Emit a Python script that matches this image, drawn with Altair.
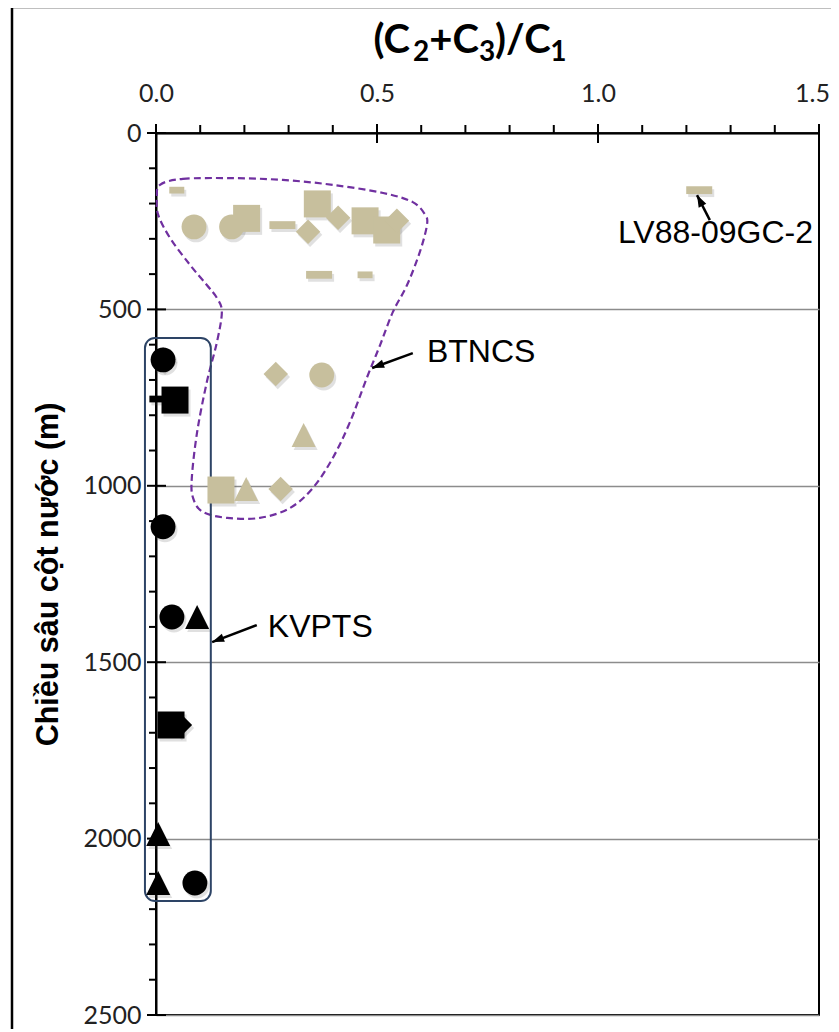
import math
import altair as alt
import pandas as pd

# ---------------- data ----------------
# BTNCS group (tan markers)
btn_x = [0.047, 0.086, 0.171, 0.205, 0.286, 0.344, 0.365, 0.412, 0.473, 0.522,
         0.545, 0.369, 0.473, 0.271, 0.375, 0.334, 0.147, 0.204, 0.282, 1.229]
btn_y = [162, 266, 266, 242, 261, 280, 201, 240, 249, 275,
         249, 402, 402, 683, 686, 856, 1012, 1009, 1009, 162]
btn_shape = ["dash_s", "circle", "circle", "square", "dash", "diamond", "square", "diamond",
             "square", "square", "diamond", "dash", "dash_s", "diamond", "circle", "triangle",
             "square", "triangle", "diamond", "dash"]

# KVPTS group (black markers)
kv_x = [0.016, 0.016, 0.002, 0.043, 0.016, 0.036, 0.093, 0.034, 0.054, 0.005, 0.005, 0.088]
kv_y = [643, 643, 754, 757, 1116, 1372, 1372, 1678, 1678, 1987, 2126, 2126]
kv_shape = ["circle", "diamond", "dash_s", "square", "circle", "circle", "triangle",
            "square", "diamond", "triangle", "triangle", "circle"]

# BTNCS enclosing dashed outline (data coordinates)
outline_x = [0.009, 0.061, 0.174, 0.287, 0.400, 0.514, 0.581, 0.609, 0.613, 0.597,
             0.568, 0.536, 0.507, 0.477, 0.439, 0.400, 0.355, 0.303, 0.235, 0.161,
             0.106, 0.084, 0.081, 0.093, 0.115, 0.138, 0.149, 0.138, 0.115, 0.077,
             0.032, 0.005, 0.002]
outline_y = [147, 130, 128, 133, 147, 170, 196, 232, 261, 337,
             431, 507, 601, 694, 819, 921, 1006, 1063, 1091, 1091,
             1074, 1035, 978, 848, 706, 592, 507, 468, 431, 374,
             298, 232, 184]

# KVPTS enclosing box
kv_box_x = [-0.025]
kv_box_x2 = [0.124]
kv_box_y = [581]
kv_box_y2 = [2177]

# annotation arrows (tail -> head) and labels
arrow_x = [0.581, 0.228, 1.253]
arrow_y = [624, 1395, 247]
arrow_x2 = [0.489, 0.127, 1.224]
arrow_y2 = [666, 1443, 176]
label_text = ["BTNCS", "KVPTS", "LV88-09GC-2"]
label_x = [0.613, 0.253, 1.045]
label_y = [621, 1400, 283]

# axis ticks
x_major = [0.0, 0.5, 1.0, 1.5]
x_minor = [0.1, 0.2, 0.3, 0.4, 0.6, 0.7, 0.8, 0.9, 1.1, 1.2, 1.3, 1.4]
y_major = [0, 500, 1000, 1500, 2000, 2500]
y_minor = [100, 200, 300, 400, 600, 700, 800, 900, 1100, 1200, 1300, 1400,
           1600, 1700, 1800, 1900, 2100, 2200, 2300, 2400]

# x-axis title "(C2+C3)/C1" split into normal / subscript pieces
title_parts = ["(C", "2", "+C", "3", ")/C", "1"]
title_is_sub = [False, True, False, True, False, True]

# ---------------- styling ----------------
W, H = 663, 882
TAN = "#c7bf9d"
shape_domain = ["circle", "square", "diamond", "triangle", "dash", "dash_s"]
shape_range = ["circle", "square", "diamond", "M0,-1L1,1L-1,1Z",
               "M-1,-0.3H1V0.3H-1Z", "M-1,-0.45H1V0.45H-1Z"]
shape_size = {"circle": 620, "square": 729, "diamond": 600, "triangle": 576,
              "dash": 676, "dash_s": 225}

xscale = alt.Scale(domain=[0, 1.5], nice=False, zero=False)
yscale = alt.Scale(domain=[0, 2500], reverse=True, nice=False, zero=False)

pts = pd.concat([
    pd.DataFrame({"x": btn_x, "y": btn_y, "shape": btn_shape, "group": "BTNCS"}),
    pd.DataFrame({"x": kv_x, "y": kv_y, "shape": kv_shape, "group": "KVPTS"}),
], ignore_index=True)
pts["i"] = range(len(pts))
pts["sz"] = pts["shape"].map(shape_size)

xaxis = alt.Axis(orient="top", values=x_major, format=".1f", ticks=False, tickSize=0,
                 labelFont="Lato", labelFontSize=25, labelColor="#222222", labelPadding=27,
                 labelOffset={"condition": {"test": "datum.value >= 1.49", "value": -7}, "value": 0},
                 labelFlush=False, domainColor="black", domainWidth=2, grid=False, title=None)
yaxis = alt.Axis(values=y_major, format="d", ticks=False, tickSize=0,
                 labelFont="Lato", labelFontSize=25, labelColor="#222222", labelPadding=15,
                 labelFlush=False, domainColor="black", domainWidth=2, grid=True,
                 gridColor="#8c8c8c", gridWidth=1.5,
                 title="Chiều sâu cột nước (m)", titleFont="Liberation Sans Narrow, Liberation Sans",
                 titleFontSize=30.5, titleFontWeight="bold", titleColor="black", titlePadding=19)

shape_enc = alt.Shape("shape:N", scale=alt.Scale(domain=shape_domain, range=shape_range), legend=None)
size_enc = alt.Size("sz:Q", scale=None, legend=None)

shadow = alt.Chart(pts).mark_point(filled=True, opacity=0.18, color="#555555",
                                    xOffset=2, yOffset=3, strokeWidth=0).encode(
    x=alt.X("x:Q", scale=xscale, axis=xaxis),
    y=alt.Y("y:Q", scale=yscale, axis=yaxis),
    shape=shape_enc, size=size_enc, order="i:Q",
)

points = alt.Chart(pts).mark_point(filled=True, opacity=1, strokeWidth=0).encode(
    x=alt.X("x:Q", scale=xscale),
    y=alt.Y("y:Q", scale=yscale),
    shape=shape_enc, size=size_enc,
    color=alt.Color("group:N", scale=alt.Scale(domain=["BTNCS", "KVPTS"], range=[TAN, "black"]), legend=None),
    order="i:Q",
)

outline_df = pd.DataFrame({"x": outline_x, "y": outline_y, "i": range(len(outline_x))})
outline = alt.Chart(outline_df).mark_line(
    interpolate="cardinal-closed", color="#7030a0", strokeWidth=2.2, strokeDash=[7, 4]
).encode(x=alt.X("x:Q", scale=xscale), y=alt.Y("y:Q", scale=yscale), order="i:Q")

box_df = pd.DataFrame({"x": kv_box_x, "x2": kv_box_x2, "y": kv_box_y, "y2": kv_box_y2})
box = alt.Chart(box_df).mark_rect(
    fillOpacity=0, stroke="#2d4466", strokeWidth=2, cornerRadius=10
).encode(x=alt.X("x:Q", scale=xscale), x2="x2:Q", y=alt.Y("y:Q", scale=yscale), y2="y2:Q")

sx, sy = W / 1.5, H / 2500.0
angles = []
for a, b, c, d in zip(arrow_x, arrow_y, arrow_x2, arrow_y2):
    dx, dy = (c - a) * sx, (d - b) * sy
    angles.append(math.degrees(math.atan2(dx, -dy)) % 360)
arrow_df = pd.DataFrame({"x": arrow_x, "y": arrow_y, "x2": arrow_x2, "y2": arrow_y2})
arrow_lines = alt.Chart(arrow_df).mark_rule(color="black", strokeWidth=2.5).encode(
    x=alt.X("x:Q", scale=xscale), x2="x2:Q", y=alt.Y("y:Q", scale=yscale), y2="y2:Q")
head_df = pd.DataFrame({"x": arrow_x2, "y": arrow_y2, "ang": angles})
arrow_heads = alt.Chart(head_df).mark_point(
    shape="M0,0L0.85,2.4L-0.85,2.4Z", filled=True, color="black", opacity=1, size=100, strokeWidth=0
).encode(x=alt.X("x:Q", scale=xscale), y=alt.Y("y:Q", scale=yscale), angle=alt.Angle("ang:Q", scale=None))

label_df = pd.DataFrame({"x": label_x, "y": label_y, "t": label_text})
labels = alt.Chart(label_df).mark_text(
    font="Liberation Sans", fontSize=32, align="left", baseline="middle", color="black"
).encode(x=alt.X("x:Q", scale=xscale), y=alt.Y("y:Q", scale=yscale), text="t:N")

# x-axis title drawn piecewise so that the subscripts sit below the baseline
MAIN_FS, SUB_FS = 40, 28
EM = {"(": 0.33, ")": 0.33, "C": 0.66, "+": 0.58, "/": 0.39, "1": 0.58, "2": 0.58, "3": 0.58}
widths = [sum(EM[ch] for ch in s) * (SUB_FS if sub else MAIN_FS)
          for s, sub in zip(title_parts, title_is_sub)]
total = sum(widths)
cx = 470 - 156  # title centre relative to plot origin
title_layers = []
pos = cx - total / 2
for s, sub, w in zip(title_parts, title_is_sub, widths):
    title_layers.append(
        alt.Chart(alt.Data(values=[{"t": s}])).mark_text(
            font="Lato", fontWeight="bold", fontSize=SUB_FS if sub else MAIN_FS,
            align="left", baseline="alphabetic", color="black"
        ).encode(x=alt.value(pos), y=alt.value(-72 if sub else -80), text="t:N")
    )
    pos += w

# crossing major ticks and outside minor ticks
xmaj = alt.Chart(pd.DataFrame({"x": x_major})).mark_rule(color="black", strokeWidth=2).encode(
    x=alt.X("x:Q", scale=xscale), y=alt.value(-9), y2=alt.value(10))
xmin = alt.Chart(pd.DataFrame({"x": x_minor})).mark_rule(color="black", strokeWidth=2).encode(
    x=alt.X("x:Q", scale=xscale), y=alt.value(-8), y2=alt.value(0))
ymaj = alt.Chart(pd.DataFrame({"y": y_major})).mark_rule(color="black", strokeWidth=2).encode(
    y=alt.Y("y:Q", scale=yscale), x=alt.value(-9), x2=alt.value(10))
ymin = alt.Chart(pd.DataFrame({"y": y_minor})).mark_rule(color="black", strokeWidth=2).encode(
    y=alt.Y("y:Q", scale=yscale), x=alt.value(-7), x2=alt.value(0))

# outer chart-area frame (only its left and top edges fall inside the crop)
frame = alt.Chart(alt.Data(values=[{}])).mark_rect(
    fillOpacity=0, stroke="black", strokeWidth=2.5
).encode(x=alt.value(-144), x2=alt.value(W + 120), y=alt.value(-126), y2=alt.value(H + 120))

chart = alt.layer(
    frame, shadow, outline, box, points, arrow_lines, arrow_heads, labels,
    xmaj, xmin, ymaj, ymin, *title_layers
).properties(
    width=W, height=H,
    padding={"left": 148, "top": 125, "right": 12, "bottom": 14},
    autosize=alt.AutoSizeParams(type="none"),
    background="white",
).configure_view(stroke="black", strokeWidth=2)

chart.save("out.html", embed_options={"renderer": "svg", "actions": False})
